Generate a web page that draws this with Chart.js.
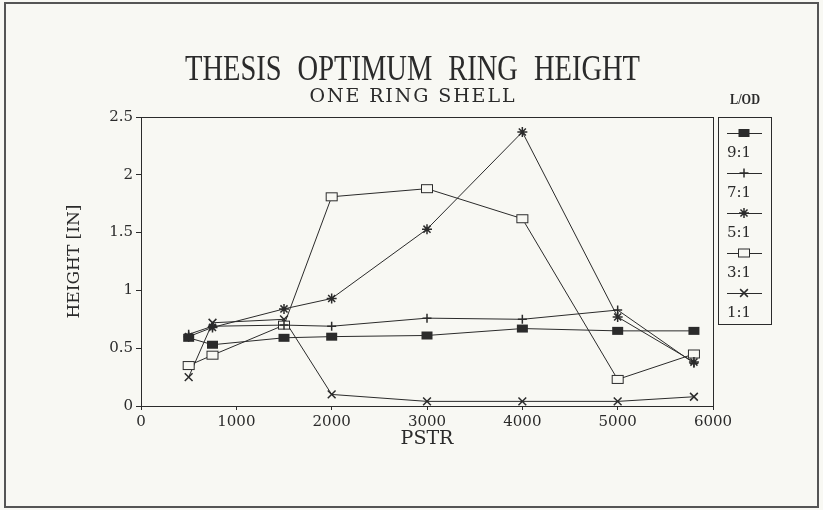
<!DOCTYPE html>
<html>
<head>
<meta charset="utf-8">
<script src="https://cdn.jsdelivr.net/npm/chart.js@4.4.1/dist/chart.umd.min.js"></script>
<style>
  html, body { margin: 0; padding: 0; background: #f8f8f3; }
  canvas { display: block; }
</style>
</head>
<body>
<canvas id="ringChart" width="823" height="510"></canvas>
<script>
// Data
const pstr = [500, 750, 1500, 2000, 3000, 4000, 5000, 5800];
const h9to1 = [0.59, 0.53, 0.59, 0.60, 0.61, 0.67, 0.65, 0.65];
const h7to1 = [0.62, 0.69, 0.70, 0.69, 0.76, 0.75, 0.83, 0.37];
const h5to1 = [0.60, 0.68, 0.84, 0.93, 1.53, 2.37, 0.77, 0.38];
const h3to1 = [0.35, 0.44, 0.70, 1.81, 1.88, 1.62, 0.23, 0.45];
const h1to1 = [0.25, 0.72, 0.75, 0.10, 0.04, 0.04, 0.04, 0.08];
const seriesLabels = ['9:1', '7:1', '5:1', '3:1', '1:1'];
const xTicks = [0, 1000, 2000, 3000, 4000, 5000, 6000];
const yTicks = [0, 0.5, 1, 1.5, 2, 2.5];

const INK = '#2b2b2b';
const PAPER = '#f8f8f3';

// Box markers as small canvases (wider than tall, like the original plotter)
function boxMarker(w, h, fill) {
  const c = document.createElement('canvas');
  c.width = w + 2;
  c.height = h + 2;
  const g = c.getContext('2d');
  g.fillStyle = fill;
  g.fillRect(1, 1, w, h);
  g.strokeStyle = INK;
  g.lineWidth = 1;
  g.strokeRect(1.5, 1.5, w - 1, h - 1);
  return c;
}
const filledBox = boxMarker(11, 8, INK);
const openBox = boxMarker(12, 9, PAPER);

const toPoints = ys => pstr.map((x, i) => ({ x: x, y: ys[i] }));

const makeSet = (label, ys, style, radius) => ({
  label: label,
  data: toPoints(ys),
  borderColor: INK,
  backgroundColor: INK,
  borderWidth: 1,
  pointStyle: style,
  pointRadius: radius,
  pointBorderColor: INK,
  pointBackgroundColor: INK,
  pointBorderWidth: 1.5,
  tension: 0
});

// Frame, titles and the L/OD key
const paperPlugin = {
  id: 'paper',
  beforeDraw(chart) {
    const ctx = chart.ctx;
    ctx.save();
    ctx.fillStyle = PAPER;
    ctx.fillRect(0, 0, chart.width, chart.height);
    ctx.strokeStyle = '#555';
    ctx.lineWidth = 2;
    ctx.strokeRect(5, 3, 813, 504);
    ctx.restore();
  },
  afterDraw(chart) {
    const ctx = chart.ctx;
    const area = chart.chartArea;
    ctx.save();
    ctx.fillStyle = INK;
    ctx.strokeStyle = INK;

    // plot box
    ctx.lineWidth = 1;
    ctx.strokeRect(Math.round(area.left) + 0.5, Math.round(area.top) + 0.5,
      Math.round(area.right - area.left), Math.round(area.bottom - area.top));

    // main title: condensed words, wide word gaps
    const words = 'THESIS OPTIMUM RING HEIGHT'.split(' ');
    const wordGap = 16;
    ctx.font = '35px "Liberation Serif"';
    const natural = words.reduce((s, w) => s + ctx.measureText(w).width, 0);
    const sx = (455 - wordGap * (words.length - 1)) / natural;
    let tx = 185;
    ctx.textAlign = 'left';
    ctx.textBaseline = 'alphabetic';
    words.forEach(w => {
      ctx.save();
      ctx.translate(tx, 80);
      ctx.scale(sx, 1);
      ctx.fillText(w, 0, 0);
      ctx.restore();
      tx += ctx.measureText(w).width * sx + wordGap;
    });

    // subtitle, spaced out
    const sub = 'ONE RING SHELL';
    ctx.font = '19px "DejaVu Serif"';
    const chars = sub.split('');
    const subNatural = chars.reduce((s, ch) => s + ctx.measureText(ch).width, 0);
    const gap = (205 - subNatural) / (chars.length - 1);
    let cx = 412 - 205 / 2;
    chars.forEach(ch => {
      ctx.fillText(ch, cx, 102);
      cx += ctx.measureText(ch).width + gap;
    });

    // key heading
    ctx.save();
    ctx.font = 'bold 14px "Liberation Serif"';
    const kw = ctx.measureText('L/OD').width;
    ctx.translate(745, 104);
    ctx.scale(30 / kw, 1);
    ctx.textAlign = 'center';
    ctx.fillText('L/OD', 0, 0);
    ctx.restore();

    // key box
    const kx = Math.round(area.right) + 5;
    ctx.lineWidth = 1;
    ctx.strokeRect(kx + 0.5, 117.5, 53, 207);
    ctx.font = '15px "DejaVu Serif"';
    ctx.textAlign = 'left';
    chart.data.datasets.forEach((ds, i) => {
      const y = 133 + i * 40;
      ctx.beginPath();
      ctx.moveTo(kx + 9, y + 0.5);
      ctx.lineTo(kx + 44, y + 0.5);
      ctx.lineWidth = 1;
      ctx.stroke();
      ctx.lineWidth = ds.pointBorderWidth;
      Chart.helpers.drawPoint(ctx, {
        pointStyle: ds.pointStyle,
        radius: ds.pointRadius,
        rotation: 0,
        borderWidth: ds.pointBorderWidth
      }, kx + 26, y);
      ctx.fillText(ds.label, kx + 9, y + 24);
    });
    ctx.restore();
  }
};

new Chart(document.getElementById('ringChart'), {
  type: 'line',
  data: {
    datasets: [
      makeSet(seriesLabels[0], h9to1, filledBox, 5),
      makeSet(seriesLabels[1], h7to1, 'cross', 4.5),
      makeSet(seriesLabels[2], h5to1, 'star', 5),
      makeSet(seriesLabels[3], h3to1, openBox, 5),
      makeSet(seriesLabels[4], h1to1, 'crossRot', 5.5)
    ]
  },
  options: {
    responsive: false,
    animation: false,
    devicePixelRatio: 1,
    layout: { padding: { left: 60, right: 110, top: 117, bottom: 52 } },
    plugins: {
      legend: { display: false },
      tooltip: { enabled: false }
    },
    scales: {
      x: {
        type: 'linear',
        min: 0,
        max: 6000,
        afterBuildTicks: scale => { scale.ticks = xTicks.map(v => ({ value: v })); },
        afterFit: scale => { scale.height = 52; },
        grid: { drawOnChartArea: false, tickLength: 4, color: INK },
        border: { color: INK, width: 1 },
        ticks: {
          color: INK,
          padding: 3,
          maxRotation: 0,
          font: { family: '"DejaVu Serif"', size: 15 },
          callback: v => String(v)
        },
        title: {
          display: true,
          text: 'PSTR',
          color: INK,
          font: { family: '"DejaVu Serif"', size: 19 },
          padding: { top: 4, bottom: 8 }
        }
      },
      y: {
        min: 0,
        max: 2.5,
        afterBuildTicks: scale => { scale.ticks = yTicks.map(v => ({ value: v })); },
        afterFit: scale => { scale.width = 81; },
        grid: { drawOnChartArea: false, tickLength: 5, color: INK },
        border: { color: INK, width: 1 },
        ticks: {
          color: INK,
          padding: 3,
          font: { family: '"DejaVu Serif"', size: 15 },
          callback: v => String(v)
        },
        title: {
          display: true,
          text: 'HEIGHT [IN]',
          color: INK,
          font: { family: '"DejaVu Serif"', size: 17 },
          padding: { top: 4, bottom: 4 }
        }
      }
    }
  },
  plugins: [paperPlugin]
});
</script>
</body>
</html>
